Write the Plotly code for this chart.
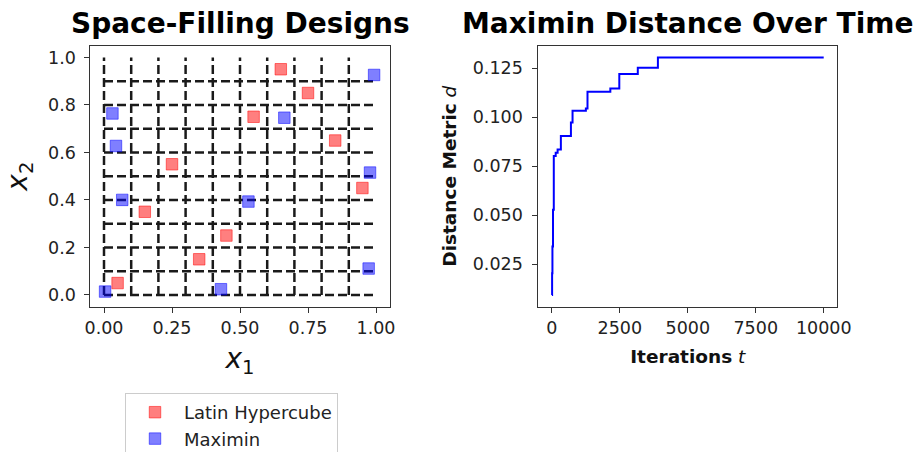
import plotly.graph_objects as go

# Reference grid of the 10 x 10 Latin hypercube cells
grid_levels = [0.0, 0.1, 0.2, 0.3, 0.4, 0.5, 0.6, 0.7, 0.8, 0.9]

# Latin hypercube design (cell centres)
lhs_x1 = [0.65, 0.75, 0.55, 0.85, 0.25, 0.95, 0.15, 0.45, 0.35, 0.05]
lhs_x2 = [0.95, 0.85, 0.75, 0.65, 0.55, 0.45, 0.35, 0.25, 0.15, 0.05]

# Maximin design
maximin_x1 = [0.993, 0.031, 0.663, 0.044, 0.978, 0.067, 0.531, 0.973, 0.004, 0.430]
maximin_x2 = [0.926, 0.764, 0.746, 0.627, 0.515, 0.400, 0.393, 0.111, 0.014, 0.024]

# Best maximin distance found so far, per iteration
iterations = [0, 8, 20, 40, 70, 140, 210, 330, 700, 760, 1250, 1310, 2150, 2480, 3160, 3900, 10000]
distance = [0.0093, 0.0204, 0.0340, 0.0528, 0.0802, 0.0819, 0.0836, 0.0904, 0.0973,
            0.1033, 0.1045, 0.1130, 0.1147, 0.1221, 0.1253, 0.1306, 0.1306]

FONT = "DejaVu Sans"
W, H = 920, 452


def padded(lo, hi, frac=0.05):
    span = hi - lo
    return [lo - frac * span, hi + frac * span]


fig = go.Figure()

# dashed grid: vertical then horizontal segments
gx, gy = [], []
for g in grid_levels:
    gx += [g, g, None]
    gy += [0.0, 1.0, None]
for g in grid_levels:
    gx += [0.0, 1.0, None]
    gy += [g, g, None]
fig.add_trace(go.Scatter(
    x=gx, y=gy, mode="lines", showlegend=False, hoverinfo="skip",
    line=dict(color="#1a1a1a", width=2.5, dash="9px,4px"),
    xaxis="x", yaxis="y",
))

fig.add_trace(go.Scatter(
    x=lhs_x1, y=lhs_x2, mode="markers", name="Latin Hypercube",
    legendgroup="lhs",
    marker=dict(symbol="square", size=11.5, color="rgba(255,0,0,0.5)",
                line=dict(color="rgba(255,0,0,0.5)", width=1)),
    xaxis="x", yaxis="y",
))
fig.add_trace(go.Scatter(
    x=maximin_x1, y=maximin_x2, mode="markers", name="Maximin",
    legendgroup="mm",
    marker=dict(symbol="square", size=11.5, color="rgba(0,0,255,0.5)",
                line=dict(color="rgba(0,0,255,0.5)", width=1)),
    xaxis="x", yaxis="y",
))

fig.add_trace(go.Scatter(
    x=iterations, y=distance, mode="lines", line_shape="hv", showlegend=False,
    line=dict(color="#0000ff", width=2),
    xaxis="x2", yaxis="y2",
))

axis_common = dict(
    showgrid=False, zeroline=False, showline=True, mirror=True,
    linecolor="#333333", linewidth=1, ticks="outside", ticklen=5,
    tickcolor="#333333", tickwidth=1,
    tickfont=dict(family=FONT, size=17.5, color="#222222"),
)

y_dom = [1 - 306.8 / H, 1 - 45.5 / H]

fig.update_layout(
    width=W, height=H,
    margin=dict(l=0, r=0, t=0, b=0, autoexpand=False),
    paper_bgcolor="white", plot_bgcolor="white",
    font=dict(family=FONT, color="#111111"),
    xaxis=dict(axis_common, domain=[90.4 / W, 389.6 / W], range=padded(0, 1),
               tickvals=[0, 0.25, 0.5, 0.75, 1.0], tickformat=".2f",
               title=dict(text="<i>x</i><sub>1</sub>", standoff=11,
                          font=dict(family=FONT, size=28))),
    yaxis=dict(axis_common, domain=y_dom, range=padded(0, 1),
               tickvals=[0, 0.2, 0.4, 0.6, 0.8, 1.0], tickformat=".1f",
               ticklabelstandoff=5,
               title=dict(text="<i>x</i><sub>2</sub>", standoff=12,
                          font=dict(family=FONT, size=28))),
    xaxis2=dict(axis_common, domain=[538.3 / W, 837.3 / W],
                range=padded(min(iterations), max(iterations)),
                tickvals=[0, 2500, 5000, 7500, 10000], tickformat="d",
                title=dict(text="<b>Iterations</b> <i>t</i>", standoff=13,
                           font=dict(family=FONT, size=18.5))),
    yaxis2=dict(axis_common, domain=y_dom, anchor="x2",
                range=padded(min(distance), max(distance)),
                tickvals=[0.025, 0.05, 0.075, 0.1, 0.125], tickformat=".3f",
                ticklabelstandoff=6,
                title=dict(text="<b>Distance Metric</b> <i>d</i>", standoff=11,
                           font=dict(family=FONT, size=18.5))),
    legend=dict(
        x=125 / W, y=1 - 393 / H, xanchor="left", yanchor="top",
        bordercolor="#cccccc", borderwidth=1, bgcolor="white",
        font=dict(family=FONT, size=18, color="#222222"),
        itemwidth=48, tracegroupgap=0, entrywidth=170,
    ),
    annotations=[
        dict(text="<b>Space-Filling Designs</b>", x=240 / W, y=1 - 23 / H,
             xref="paper", yref="paper", xanchor="center", yanchor="middle",
             showarrow=False, font=dict(family=FONT, size=28, color="black")),
        dict(text="<b>Maximin Distance Over Time</b>", x=687.8 / W, y=1 - 23 / H,
             xref="paper", yref="paper", xanchor="center", yanchor="middle",
             showarrow=False, font=dict(family=FONT, size=28, color="black")),
    ],
)
fig.layout.xaxis2.anchor = "y2"

fig.write_html("out.html")
